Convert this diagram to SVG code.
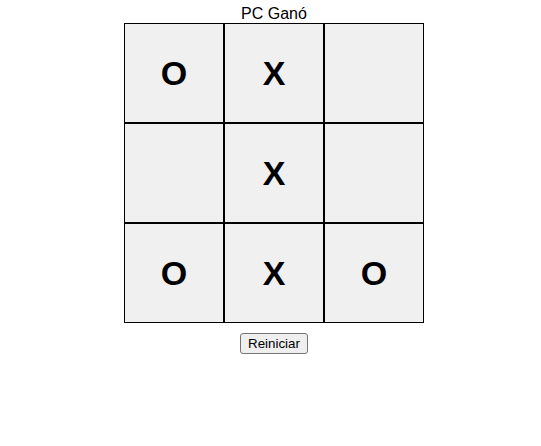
<svg xmlns="http://www.w3.org/2000/svg" width="541" height="446" viewBox="0 0 541 446">
<style>
.cell rect{fill:#f0f0f0;stroke:#000;stroke-width:1}
.mark{font-family:"Liberation Sans",Arial,sans-serif;font-weight:bold;font-size:34px;text-anchor:middle;fill:#000}
.title{font-family:"Liberation Sans",Arial,sans-serif;font-size:16px;text-anchor:middle;fill:#000}
.btn{fill:#efefef;stroke:#767676;stroke-width:1}
.btntext{font-family:"Liberation Sans",Arial,sans-serif;font-size:13.33px;text-anchor:middle;fill:#000}
</style>
<rect width="541" height="446" fill="#fff"/>
<g id="title"><text class="title" x="274" y="19">PC Ganó</text></g>
<g id="board">
<g id="c00" class="cell"><rect x="124.5" y="23.5" width="99" height="99"/><text class="mark" x="174" y="85">O</text></g>
<g id="c01" class="cell"><rect x="224.5" y="23.5" width="99" height="99"/><text class="mark" x="274" y="85">X</text></g>
<g id="c02" class="cell"><rect x="324.5" y="23.5" width="99" height="99"/></g>
<g id="c10" class="cell"><rect x="124.5" y="123.5" width="99" height="99"/></g>
<g id="c11" class="cell"><rect x="224.5" y="123.5" width="99" height="99"/><text class="mark" x="274" y="185">X</text></g>
<g id="c12" class="cell"><rect x="324.5" y="123.5" width="99" height="99"/></g>
<g id="c20" class="cell"><rect x="124.5" y="223.5" width="99" height="99"/><text class="mark" x="174" y="285">O</text></g>
<g id="c21" class="cell"><rect x="224.5" y="223.5" width="99" height="99"/><text class="mark" x="274" y="285">X</text></g>
<g id="c22" class="cell"><rect x="324.5" y="223.5" width="99" height="99"/><text class="mark" x="374" y="285">O</text></g>
</g>
<g id="connectors"></g>
<g id="reset"><rect class="btn" x="240.5" y="333.5" width="67" height="20" rx="2.5"/><text class="btntext" x="274" y="348">Reiniciar</text></g>
</svg>
